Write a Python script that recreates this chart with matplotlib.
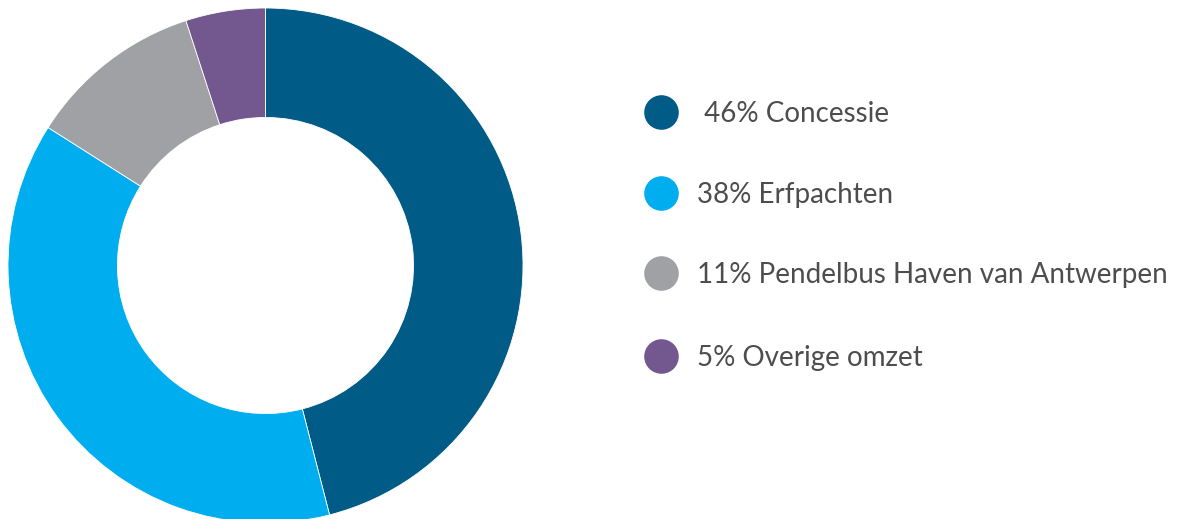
import matplotlib
matplotlib.use('Agg')
import matplotlib.pyplot as plt

# Omzetverdeling
labels = [' 46% Concessie', '38% Erfpachten', '11% Pendelbus Haven van Antwerpen', '5% Overige omzet']
shares = [46, 38, 11, 5]
colors = ['#005b87', '#00aeef', '#a0a1a5', '#72588f']

W, H = 1198, 519
fig = plt.figure(figsize=(W / 100, H / 100), dpi=100)
ax = fig.add_axes([0, 0, 1, 1])

# donut
R = 257.5
ax.pie(shares, colors=colors, startangle=90, counterclock=False,
       radius=R, center=(265.5, H - 265.5),
       wedgeprops=dict(width=R * 0.425, linewidth=0.6, edgecolor='white'),
       frame=True)
ax.set_xlim(0, W)
ax.set_ylim(0, H)
ax.set_aspect('equal')
ax.axis('off')

# legend
legend_y = [112, 193, 273, 356]
for lab, col, y in zip(labels, colors, legend_y):
    ax.scatter([661], [H - y], s=620, color=col, linewidths=0, zorder=3)
    ax.text(697, H - y - 2, lab, fontsize=20, family='Lato', color='#4d4d4d',
            va='center', ha='left')

fig.savefig('out.png', dpi=100)
